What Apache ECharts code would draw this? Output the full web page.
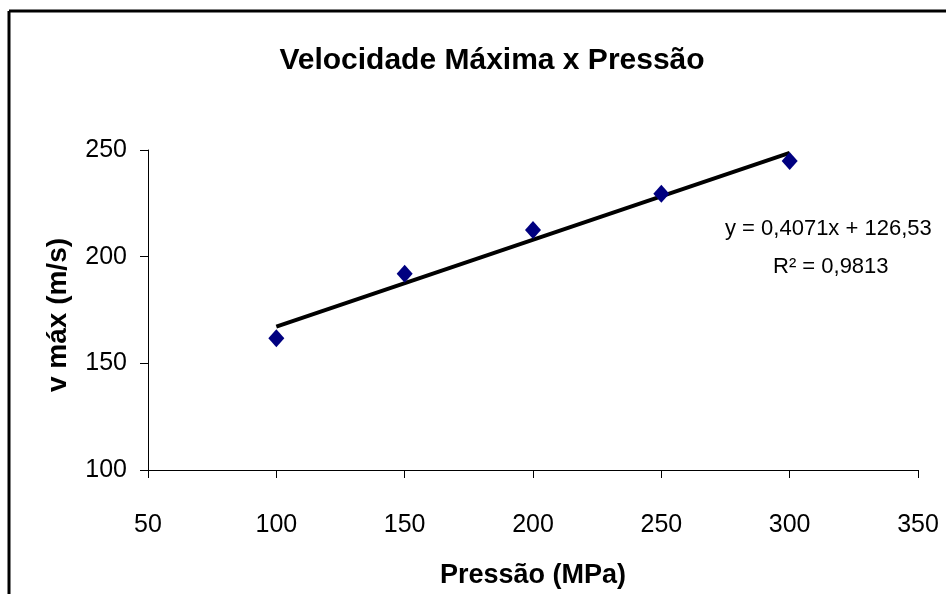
<!DOCTYPE html>
<html><head><meta charset="utf-8">
<script src="https://cdn.jsdelivr.net/npm/echarts@6/dist/echarts.min.js"></script>
<style>html,body{margin:0;padding:0;background:#fff}#c{width:946px;height:594px}</style>
</head><body><div id="c"></div>
<script>
var pressures = [100, 150, 200, 250, 300];
var speeds = [161.7, 192, 212.5, 229.5, 244.8];
var trendSlope = 0.4071;
var trendIntercept = 126.53;
var trendX = [100, 300];
var xTicks = [50, 100, 150, 200, 250, 300, 350];
var yTicks = [100, 150, 200, 250];
var titleText = 'Velocidade Máxima x Pressão';
var xName = 'Pressão (MPa)';
var yName = 'v máx (m/s)';
var eqText = 'y = 0,4071x + 126,53';
var r2Text = 'R² = 0,9813';

var chart = echarts.init(document.getElementById('c'), null, {renderer: 'canvas'});
var font = 'Liberation Sans, Arial, sans-serif';
var trendData = trendX.map(function (x) { return [x, trendSlope * x + trendIntercept]; });
chart.setOption({
  animation: false,
  backgroundColor: '#fff',
  title: {
    text: titleText, left: 487, top: 41, textAlign: 'center',
    textStyle: {fontFamily: font, fontWeight: 'bold', fontSize: 30, color: '#000'}
  },
  grid: {left: 148, right: 28, top: 150, bottom: 118},
  xAxis: {
    type: 'value', min: xTicks[0], max: xTicks[xTicks.length - 1], interval: 50,
    name: xName, nameLocation: 'middle', nameGap: 92,
    nameTextStyle: {fontFamily: font, fontWeight: 'bold', fontSize: 27, color: '#000'},
    axisLine: {show: true, lineStyle: {color: '#000', width: 1}},
    axisTick: {show: true, inside: false, length: 8, lineStyle: {color: '#000'}},
    axisLabel: {margin: 43, fontFamily: font, fontSize: 25, color: '#000'},
    splitLine: {show: false}
  },
  yAxis: {
    type: 'value', min: yTicks[0], max: yTicks[yTicks.length - 1], interval: 50,
    axisLine: {show: true, lineStyle: {color: '#000', width: 1}},
    axisTick: {show: true, inside: false, length: 8, lineStyle: {color: '#000'}},
    axisLabel: {margin: 21, fontFamily: font, fontSize: 25, color: '#000'},
    splitLine: {show: false}
  },
  series: [
    {
      type: 'line', data: trendData, symbol: 'none', silent: true,
      lineStyle: {color: '#000', width: 4}, z: 2
    },
    {
      type: 'scatter', data: pressures.map(function (p, i) { return [p, speeds[i]]; }),
      symbol: 'diamond', symbolSize: [16, 18],
      itemStyle: {color: '#000080', opacity: 1}, z: 3
    }
  ],
  graphic: [
    {type: 'line', shape: {x1: 9, y1: 11, x2: 946, y2: 11}, style: {stroke: '#000', lineWidth: 3}},
    {type: 'line', shape: {x1: 9, y1: 11, x2: 9, y2: 594}, style: {stroke: '#000', lineWidth: 3}},
    {type: 'text', x: 58, y: 315, rotation: Math.PI / 2,
     style: {text: yName, font: 'bold 28px ' + font, fill: '#000', align: 'center', verticalAlign: 'middle'}},
    {type: 'text', left: 725, top: 218, style: {text: eqText, font: '22px ' + font, fill: '#000'}},
    {type: 'text', left: 773, top: 256, style: {text: r2Text, font: '22px ' + font, fill: '#000'}}
  ]
});
</script></body></html>
